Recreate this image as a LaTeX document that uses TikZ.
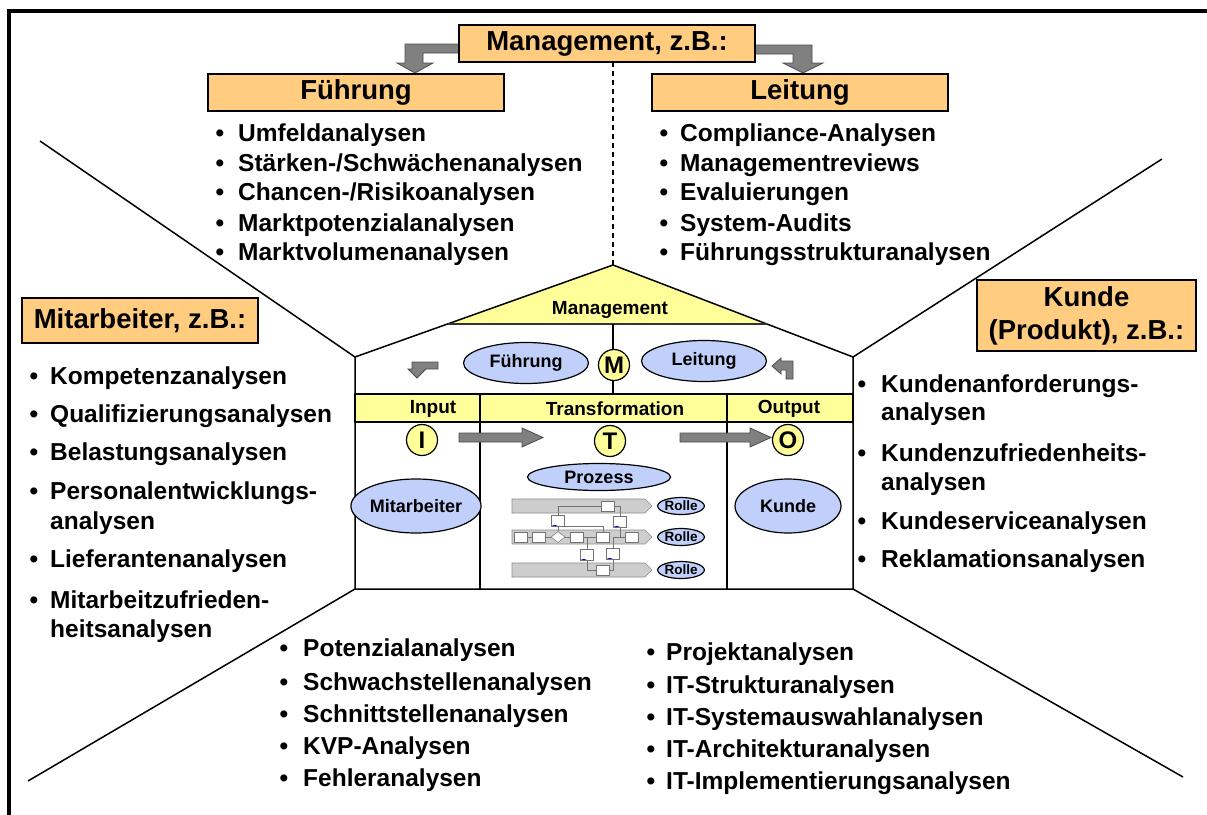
\documentclass[tikz,border=0pt]{standalone}
\usepackage{fontspec}
\setmainfont{Liberation Sans}
\usetikzlibrary{shapes,calc}
\definecolor{orng}{RGB}{255,204,128}
\definecolor{ylw}{RGB}{255,255,153}
\definecolor{lblue}{RGB}{192,208,250}
\definecolor{arrgray}{RGB}{128,128,128}
\definecolor{lanegray}{RGB}{205,205,205}
\begin{document}
\begin{tikzpicture}[x=1pt,y=-1pt,
  hdr/.style={draw,fill=orng,line width=1.2pt,inner sep=0pt,align=center,font=\fontsize{27.5}{33}\selectfont\bfseries},
  item/.style={anchor=base west,inner sep=0pt,font=\fontsize{24.5}{30}\selectfont\bfseries},
  bul/.style={anchor=base,inner sep=0pt,font=\fontsize{24.5}{30}\selectfont\bfseries},
  blob/.style={ellipse,draw,fill=lblue,line width=1.2pt,inner sep=0pt,font=\fontsize{18}{20}\selectfont\bfseries},
  letter/.style={circle,draw,fill=ylw,line width=1.2pt,minimum size=31pt,inner sep=0pt,font=\fontsize{24}{24}\selectfont\bfseries},
  colhead/.style={inner sep=0pt,font=\fontsize{19}{20}\selectfont\bfseries},
  blockarrow/.style={draw=black!70,fill=arrgray,line width=0.8pt},
  wire/.style={line width=1.5pt},
  lane/.style={draw=black!45,fill=lanegray,line width=0.6pt},
  pbox/.style={draw=black!55,fill=white,line width=0.5pt,minimum width=13pt,minimum height=10pt,inner sep=0pt},
  pdoc/.style={pbox,minimum height=11pt,path picture={\draw[blue!80!black,line width=1pt] (path picture bounding box.south west) .. controls +(4,-4) and +(-4,4) .. (path picture bounding box.south east);}},
  plink/.style={draw=black!55,line width=0.6pt},
  rolle/.style={ellipse,draw,fill=lblue,line width=1.2pt,minimum width=46pt,minimum height=17pt,inner sep=0pt,font=\fontsize{13.5}{14}\selectfont\bfseries}]
  \useasboundingbox (0,0) rectangle (1207,814);

  % frame and corner lines
  \coordinate (fBL) at (9,840);
  \coordinate (fTL) at (9,11);
  \coordinate (fTR) at (1240,11);
  \draw[line width=3.5pt] (fBL) -- (fTL) -- (fTR);

  \coordinate (apex) at (613,265);
  \coordinate (roofL) at (355,357);
  \coordinate (roofR) at (853,357);
  \coordinate (baseL) at (355,589);
  \coordinate (baseR) at (853,589);
  \coordinate (tl) at (40,141);
  \coordinate (tr) at (1162,159);
  \coordinate (bl) at (28,781);
  \coordinate (br) at (1183,777);
  \foreach \from/\to in {tl/roofL, tr/roofR, bl/baseL, br/baseR}
    \draw[wire] (\from) -- (\to);

  % management
  \draw[blockarrow] (459,44) -- (405,44) -- (405,63) -- (397,63) -- (415,73) -- (433,63) -- (423,63) -- (423,53) -- (459,53) -- cycle;
  \draw[blockarrow] (755,45) -- (812,45) -- (812,63) -- (823,63) -- (803,73) -- (783,63) -- (793,63) -- (793,54) -- (755,54) -- cycle;
  \node[hdr,minimum width=296pt,minimum height=37pt] (mgmt) at (607,43.5) {Management, z.B.:};
  \node[hdr,minimum width=296pt,minimum height=37pt] (fuehrung) at (356,92.5) {Führung};
  \node[hdr,minimum width=296pt,minimum height=37pt] (leitung) at (800,92.5) {Leitung};
  \coordinate (dtop) at (613,62);
  \draw[dashed,line width=1.2pt,dash pattern=on 5pt off 4pt] (dtop) -- (apex);

  \foreach \y/\t [count=\i] in {141/Umfeldanalysen, 171/{Stärken-/Schwächenanalysen}, 200/{Chancen-/Risikoanalysen}, 231/Marktpotenzialanalysen, 260/Marktvolumenanalysen}
    \node[item] (fu\i) at (238,\y) {\t};
  \foreach \y/\t [count=\i] in {141/Compliance-Analysen, 171/Managementreviews, 200/Evaluierungen, 231/System-Audits, 260/Führungsstrukturanalysen}
    \node[item] (le\i) at (680,\y) {\t};
  \foreach \y [count=\i] in {141,171,200,231,260} {
    \node[bul] (fub\i) at (220,\y) {\textbullet};
    \node[bul] (leb\i) at (664,\y) {\textbullet};
  }

  % Mitarbeiter
  \node[hdr,minimum width=236pt,minimum height=45pt] (mit) at (140,320.5) {Mitarbeiter, z.B.:};
  \foreach \y/\t [count=\i] in {384/Kompetenzanalysen, 422/Qualifizierungsanalysen, 460/Belastungsanalysen, 499/Personalentwicklungs-, 529/analysen, 567/Lieferantenanalysen, 608/Mitarbeitzufrieden-, 637/heitsanalysen}
    \node[item] (mi\i) at (50,\y) {\t};
  \foreach \y [count=\i] in {384,422,460,499,567,608}
    \node[bul] (mib\i) at (34,\y) {\textbullet};

  % Kunde
  \node[hdr,minimum width=219pt,minimum height=71pt] (kunde) at (1086.5,315.5) {Kunde\\(Produkt), z.B.:};
  \foreach \y/\t [count=\i] in {392/Kundenanforderungs-, 420/analysen, 461/Kundenzufriedenheits-, 490/analysen, 529/Kundeserviceanalysen, 567/Reklamationsanalysen}
    \node[item] (ku\i) at (881,\y) {\t};
  \foreach \y [count=\i] in {392,461,529,567}
    \node[bul] (kub\i) at (862,\y) {\textbullet};

  % bottom
  \foreach \y/\t [count=\i] in {656/Potenzialanalysen, 690/Schwachstellenanalysen, 722/Schnittstellenanalysen, 754/KVP-Analysen, 786/Fehleranalysen}
    \node[item] (pr\i) at (303,\y) {\t};
  \foreach \y/\t [count=\i] in {660/Projektanalysen, 693/IT-Strukturanalysen, 725/IT-Systemauswahlanalysen, 757/IT-Architekturanalysen, 789/IT-Implementierungsanalysen}
    \node[item] (it\i) at (666,\y) {\t};
  \foreach \y [count=\i] in {656,690,722,754,786}
    \node[bul] (prb\i) at (284,\y) {\textbullet};
  \foreach \y [count=\i] in {660,693,725,757,789}
    \node[bul] (itb\i) at (651,\y) {\textbullet};

  % house
  \coordinate (yL) at ($(apex)!0.64!(roofL)$);
  \coordinate (yR) at ($(apex)!0.64!(roofR)$);
  \fill[ylw] (apex) -- (yL) -- (yR) -- cycle;
  \draw[wire] (roofL) -- (apex) -- (roofR) -- (baseR) -- (baseL) -- cycle;
  \draw[line width=2.5pt,black!80] (yL) -- (yR);
  \node[colhead] (roof) at (610,310) {Management};
  \coordinate (mtop) at (613,324);
  \coordinate (mbot) at (613,394);
  \draw[wire] (mtop) -- (mbot);
  \draw[wire,fill=ylw] (355,394) rectangle (853,422);
  \draw[wire] (480,394) -- (480,589);
  \draw[wire] (727,394) -- (727,589);
  \node[colhead] (inp) at (433,409) {Input};
  \node[colhead] (trf) at (615,409) {Transformation};
  \node[colhead] (outp) at (789,409) {Output};

  \node[letter] (m) at (614,365) {M};
  \node[blob,minimum width=125pt,minimum height=41pt] (bf) at (526,363) {Führung};
  \node[blob,minimum width=125pt,minimum height=41pt] (bl) at (704,361) {Leitung};
  \draw[blockarrow] (438,362) -- (412,362) -- (412,369) -- (408,369) -- (417,378) -- (426,369) -- (438,369) -- cycle;
  \draw[blockarrow] (793,379) -- (793,361) -- (781,361) -- (781,358) -- (772,366) -- (781,374) -- (781,370) -- (786,370) -- (786,379) -- cycle;

  \node[letter] (i) at (422,440) {I};
  \node[letter] (t) at (610,441) {T};
  \node[letter] (o) at (788,440) {O};
  \draw[blockarrow] (459,433) -- (522,433) -- (522,428) -- (543,437.5) -- (522,447) -- (522,442) -- (459,442) -- cycle;
  \draw[blockarrow] (680,433) -- (750,433) -- (750,428) -- (771,437.5) -- (750,447) -- (750,442) -- (680,442) -- cycle;

  \node[blob,minimum width=112pt,minimum height=54pt] (ma) at (416,506) {Mitarbeiter};
  \node[blob,minimum width=106pt,minimum height=54pt] (ku) at (788,506) {Kunde};
  \node[blob,minimum width=143pt,minimum height=27pt] (proz) at (599,477) {Prozess};

  % process lanes
  \foreach \y [count=\i] in {506,537,570} {
    \draw[lane] (512,\y-7) -- (645,\y-7) -- (652,\y) -- (645,\y+7) -- (512,\y+7) -- cycle;
    \node[rolle] (r\i) at (681,\y) {Rolle};
  }
  \node[pbox] (pb1) at (608,506) {};
  \node[pbox] (pa1) at (521,537) {};
  \node[pbox] (pa2) at (539,537) {};
  \node[diamond,draw=black!55,fill=white,line width=0.5pt,inner sep=0pt,minimum width=14pt,minimum height=11pt] (pd) at (558,537) {};
  \node[pbox] (pa4) at (577,537) {};
  \node[pbox] (pa5) at (603,537) {};
  \node[pbox] (pa6) at (632,537) {};
  \node[pbox] (pc1) at (603,570) {};
  \node[pdoc] (d1) at (558,521) {};
  \node[pdoc] (d2) at (620,522) {};
  \node[pdoc] (d3) at (587,555) {};
  \node[pdoc] (d4) at (613,554) {};
  \draw[plink] (d1.north) |- (pb1.west);
  \draw[plink] (pb1.east) -| (d2.north);
  \draw[plink] (d1.south) -- (pd.north);
  \draw[plink] (d1.south) -| (pa5.north);
  \foreach \from/\to in {pa1/pa2, pa2/pd, pd/pa4, pa4/pa5}
    \draw[plink] (\from.east) -- (\to.west);
  \draw[plink] (pa4.east) -| (d3.north);
  \draw[plink] (d3.south) |- (pc1.west);
  \draw[plink] (pc1.east) -| (d4.south);
  \draw[plink] (d4.north) |- (pa6.west);
  \draw[plink] (d2.south) |- (pa6.west);
\end{tikzpicture}
\end{document}
